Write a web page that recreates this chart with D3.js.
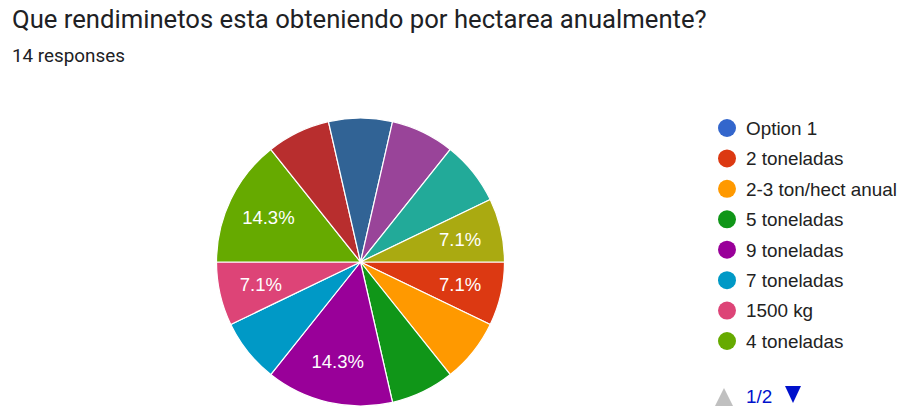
<!DOCTYPE html>
<html><head><meta charset="utf-8">
<script src="https://cdn.jsdelivr.net/npm/d3@7"></script>
<style>
html,body{margin:0;padding:0;background:#fff;}
svg{display:block;font-family:Roboto,Arial,sans-serif;}
</style></head>
<body>
<svg id="chart" width="903" height="406"></svg>
<script>
// Data (answers in form order; items 9-13 sit on legend page 2, names not visible)
const categories = ["Option 1","2 toneladas","2-3 ton/hect anual","5 toneladas","9 toneladas","7 toneladas","1500 kg","4 toneladas","Respuesta 9","Respuesta 10","Respuesta 11","Respuesta 12","Respuesta 13"];
const counts = [0,1,1,1,2,1,1,2,1,1,1,1,1];
const colors = ["#3366cc","#dc3912","#ff9900","#109618","#990099","#0099c6","#dd4477","#66aa00","#b82e2e","#316395","#994499","#22aa99","#aaaa11"];
const titleText = "Que rendiminetos esta obteniendo por hectarea anualmente?";
const subtitleText = "14 responses";
const legendPageText = "1/2";
const legendVisible = 8;

const svg = d3.select("#chart");
const ARIAL = "Arial, 'Liberation Sans', sans-serif";

function fitText(sel, base, target){
  const w = sel.node().getComputedTextLength();
  sel.attr("font-size", base*target/w);
  return base*target/w;
}

// Title
const title = svg.append("text").attr("x",12).attr("y",28)
  .attr("fill","#202124").attr("font-size",21).text(titleText);
fitText(title, 21, 695);
const sub = svg.append("text").attr("x",12).attr("y",62)
  .attr("fill","#202124").attr("font-size",15).text(subtitleText);
fitText(sub, 15, 113);

// Pie
const cx = 360.5, cy = 262, R = 144;
const total = d3.sum(counts);
const pie = d3.pie().sort(null).value(d=>d.v)
  .startAngle(Math.PI/2).endAngle(Math.PI/2 + 2*Math.PI);
const data = categories.map((c,i)=>({c, v:counts[i], col:colors[i]}));
const arcs = pie(data);
const arc = d3.arc().innerRadius(0).outerRadius(R);
const g = svg.append("g").attr("transform",`translate(${cx},${cy})`);
g.selectAll("path").data(arcs.filter(a=>a.data.v>0)).join("path")
  .attr("d",arc).attr("fill",d=>d.data.col)
  .attr("stroke","#fff").attr("stroke-width",1.2);

// Labels (shown only when the text box fits inside the slice)
const fmt = v => (Math.round(v/total*1000)/10).toFixed(1)+"%";
const lr = R*0.71;
function inside(x,y,a0,a1){
  const r = Math.hypot(x,y);
  if (r > R-2) return false;
  let a = Math.atan2(x,-y); // clockwise from 12 o'clock
  while (a < a0) a += 2*Math.PI;
  while (a > a0 + 2*Math.PI) a -= 2*Math.PI;
  return a >= a0 && a <= a1;
}
arcs.filter(a=>a.data.v>0).forEach(a=>{
  const m = (a.startAngle+a.endAngle)/2;
  const x = Math.sin(m)*lr, y = -Math.cos(m)*lr;
  const t = g.append("text").attr("x",x).attr("y",y).attr("dy","0.36em")
    .attr("text-anchor","middle").attr("fill","#fff").attr("font-size",18.5)
    .attr("font-family",ARIAL)
    .text(fmt(a.data.v));
  const w = t.node().getComputedTextLength()/2 + 2, h = 9;
  const ok = [[x-w,y-h],[x+w,y-h],[x-w,y+h],[x+w,y+h]].every(p=>inside(p[0],p[1],a.startAngle,a.endAngle));
  if (!ok) t.remove();
});

// Legend
const lg = svg.append("g");
const items = data.slice(0, legendVisible);
const ly = d3.scalePoint().domain(d3.range(items.length)).range([128, 341]);
let lfs = 16;
items.forEach((d,i)=>{
  lg.append("circle").attr("cx",727).attr("cy",ly(i)).attr("r",9).attr("fill",d.col);
  const t = lg.append("text").attr("x",746).attr("y",ly(i)).attr("dy","0.36em")
    .attr("fill","#222").attr("font-family",ARIAL).attr("font-size",16).text(d.c);
  if (i===2) lfs = 16*151/t.node().getComputedTextLength();
});
lg.selectAll("text").attr("font-size",lfs);
// Pager
lg.append("path").attr("d","M715,406 L724,388 L733,406 Z").attr("fill","#c0c0c0");
lg.append("text").attr("x",746).attr("y",403).attr("fill","#0011cc")
  .attr("font-family",ARIAL).attr("font-size",lfs).text(legendPageText);
lg.append("path").attr("d","M785,386 L801,386 L793,403 Z").attr("fill","#0011cc");
</script>
</body></html>
